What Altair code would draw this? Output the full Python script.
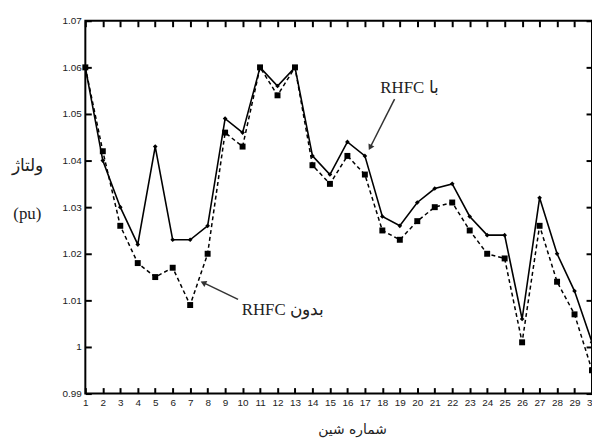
import altair as alt
import pandas as pd

buses = list(range(1, 31))
v_with = [1.060, 1.040, 1.030, 1.022, 1.043, 1.023, 1.023, 1.026, 1.049, 1.046,
          1.060, 1.056, 1.060, 1.041, 1.037, 1.044, 1.041, 1.028, 1.026, 1.031,
          1.034, 1.035, 1.028, 1.024, 1.024, 1.006, 1.032, 1.020, 1.012, 1.001]
v_without = [1.060, 1.042, 1.026, 1.018, 1.015, 1.017, 1.009, 1.020, 1.046, 1.043,
             1.060, 1.054, 1.060, 1.039, 1.035, 1.041, 1.037, 1.025, 1.023, 1.027,
             1.030, 1.031, 1.025, 1.020, 1.019, 1.001, 1.026, 1.014, 1.007, 0.995]
y_ticks = [0.99, 1.00, 1.01, 1.02, 1.03, 1.04, 1.05, 1.06, 1.07]

label_with = "RHFC با"
label_without = "RHFC بدون"
ann_with_text = {"x": 19.55, "y": 1.0555}
ann_with_arrow = {"x": 18.7, "y": 1.0532, "x2": 17.3, "y2": 1.0428}
ann_without_text = {"x": 12.3, "y": 1.0080}
ann_without_arrow = {"x": 9.74, "y": 1.0102, "x2": 7.75, "y2": 1.0138}

W, H = 511, 376
X0, X1, Y0, Y1 = 1, 30, 0.99, 1.07
TL = 6

df = pd.DataFrame({"bus": buses, "with": v_with, "without": v_without})

xs = alt.Scale(domain=[X0, X1], nice=False, zero=False)
ys = alt.Scale(domain=[Y0, Y1], nice=False, zero=False)

tick_style = dict(tickSize=TL, tickWidth=2, tickColor="black", domain=False, grid=False,
                  offset=-TL)

# bottom axis: pulled inward by TL so its ticks point into the plot
x_axis_bottom = alt.Axis(orient="bottom", values=buses, **tick_style,
                         labelFontSize=10, labelColor="#222", labelPadding=4,
                         labelFont="Liberation Sans", labelFlush=False, labelOverlap=False,
                         labelBound=False,
                         title="شماره شین", titleFont="DejaVu Sans", titleFontSize=14,
                         titleFontWeight="normal", titleColor="#222",
                         titleX=269, titleY=40 + TL, titleBaseline="alphabetic")
x_axis_top = alt.Axis(orient="top", values=buses, **tick_style, labels=False, title=None)

y_axis_left = alt.Axis(orient="left", values=y_ticks, **tick_style,
                       labelFontSize=10, labelColor="#222", labelPadding=4,
                       labelFont="Liberation Sans", labelFlush=False, labelOverlap=False,
                       labelExpr="abs(datum.value-1)<1e-9 ? '1' : format(datum.value,'.2f')",
                       title=["ولتاژ", "(pu)"], titleFont="Liberation Serif",
                       titleFontSize=17, titleFontWeight="normal", titleColor="#222",
                       titleAngle=0, titleAlign="center", titleBaseline="alphabetic",
                       titleLineHeight=48, titleX=-59 - TL, titleY=151)
y_axis_right = alt.Axis(orient="right", values=y_ticks, **tick_style, labels=False, title=None)


def X(f="bus", axis=None):
    return alt.X(f"{f}:Q", scale=xs, axis=axis)


def Y(f, axis=None):
    return alt.Y(f"{f}:Q", scale=ys, axis=axis)


base = alt.Chart(df)
line_with = base.mark_line(color="black", strokeWidth=1.6).encode(
    x=X(axis=x_axis_bottom), y=Y("with", axis=y_axis_left))
pts_with = base.mark_point(shape="diamond", filled=True, color="black", size=22, opacity=1).encode(
    x=X(axis=x_axis_top), y=Y("with", axis=y_axis_right))
line_without = base.mark_line(color="black", strokeWidth=1.5, strokeDash=[4, 3]).encode(
    x=X(), y=Y("without"))
pts_without = base.mark_point(shape="square", filled=True, color="black", size=36, opacity=1).encode(
    x=X(), y=Y("without"))


# annotations
def arrow(a, angle):
    d = pd.DataFrame([a])
    r = alt.Chart(d).mark_rule(color="#333", strokeWidth=1.5).encode(
        x=X("x"), y=Y("y"), x2="x2:Q", y2="y2:Q")
    h = alt.Chart(d).mark_point(shape="triangle-up", filled=True, color="#333",
                                size=45, angle=angle, opacity=1).encode(
        x=X("x2"), y=Y("y2"))
    return r + h


def label(t, txt):
    d = pd.DataFrame([dict(t, label=txt)])
    return alt.Chart(d).mark_text(font="Liberation Serif", fontSize=17, color="#222",
                                  align="center", baseline="middle").encode(
        x=X("x"), y=Y("y"), text="label:N")


chart = alt.layer(
    line_with, pts_with, line_without, pts_without,
    arrow(ann_with_arrow, 207), arrow(ann_without_arrow, 296),
    label(ann_with_text, label_with), label(ann_without_text, label_without),
).resolve_axis(
    x="independent", y="independent"
).properties(
    width=W, height=H,
    autosize=alt.AutoSizeParams(type="none"),
    padding={"left": 78, "top": 11, "right": 0, "bottom": 50},
    background="white",
).configure_view(stroke="black", strokeWidth=2)

chart.save("out.html", embed_options={"renderer": "svg", "actions": False})
